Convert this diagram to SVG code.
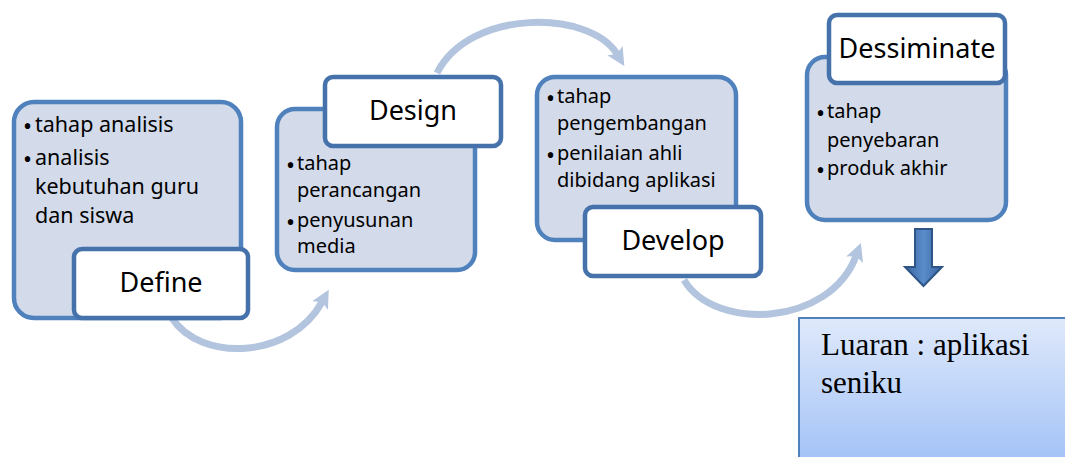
<svg xmlns="http://www.w3.org/2000/svg" width="1065" height="457" viewBox="0 0 1065 457">
  <style>
    .panel { fill: #d3dae9; stroke: #4f81bd; stroke-width: 4.5; }
    .label { fill: #ffffff; stroke: #4672ab; stroke-width: 4.5; }
    .body { font-family: "Noto Sans", "Open Sans", sans-serif; font-size: 20px; fill: #000; }
    .big { font-size: 21.5px; }
    .dot { font-size: 24px; }
    .title { font-family: "Noto Sans", "Open Sans", sans-serif; font-size: 27px; fill: #000; text-anchor: middle; }
    .flow { fill: none; stroke: #b3c4df; stroke-width: 7; }
    .out { font-family: "Liberation Serif", "Times New Roman", serif; font-size: 31px; fill: #000; }
  </style>
  <defs>
    <marker id="tip" markerUnits="userSpaceOnUse" markerWidth="24" markerHeight="24" viewBox="0 0 24 24" refX="6" refY="12" orient="auto">
      <path d="M2,3 L20,12 L2,21 L6,12 Z" fill="#b3c4df"/>
    </marker>
    <linearGradient id="shaft" x1="0" y1="0" x2="1" y2="0">
      <stop offset="0" stop-color="#3a66a0"/>
      <stop offset="0.5" stop-color="#5a8ccb"/>
      <stop offset="1" stop-color="#3a66a0"/>
    </linearGradient>
    <linearGradient id="sky" x1="0" y1="0" x2="0" y2="1">
      <stop offset="0" stop-color="#dfe9fb"/>
      <stop offset="1" stop-color="#a2c2f6"/>
    </linearGradient>
  </defs>

  <!-- curved flow arrows between the stages -->
  <g id="connectors">
    <path class="flow" d="M172,318 C200,362 290,360 322,302" marker-end="url(#tip)"/>
    <path class="flow" d="M437,73 C470,8 590,10 617,54" marker-end="url(#tip)"/>
    <path class="flow" d="M684,280 C715,332 830,326 856,256" marker-end="url(#tip)"/>
  </g>

  <g id="define">
    <rect class="panel" x="14" y="102" width="227" height="216" rx="20"/>
    <text class="body big" x="23" y="132"><tspan class="dot" dy="3">•</tspan><tspan x="35" dy="-3">tahap analisis</tspan></text>
    <text class="body big" x="23" y="165"><tspan class="dot" dy="3">•</tspan><tspan x="35" dy="-3">analisis</tspan></text>
    <text class="body big" x="35" y="194">kebutuhan guru</text>
    <text class="body big" x="35" y="223">dan siswa</text>
    <rect class="label" x="74" y="249" width="174" height="69" rx="8"/>
    <text class="title" x="161" y="292">Define</text>
  </g>

  <g id="design">
    <rect class="panel" x="277" y="109" width="198" height="161" rx="18"/>
    <text class="body" x="286" y="170"><tspan class="dot" dy="3.5">•</tspan><tspan x="297" dy="-3.5">tahap</tspan></text>
    <text class="body" x="297" y="197">perancangan</text>
    <text class="body" x="286" y="227"><tspan class="dot" dy="3.5">•</tspan><tspan x="297" dy="-3.5">penyusunan</tspan></text>
    <text class="body" x="297" y="253">media</text>
    <rect class="label" x="325" y="77" width="176" height="69" rx="8"/>
    <text class="title" x="413" y="120">Design</text>
  </g>

  <g id="develop">
    <rect class="panel" x="537" y="77" width="199" height="163" rx="18"/>
    <text class="body" x="546" y="103"><tspan class="dot" dy="3.5">•</tspan><tspan x="557" dy="-3.5">tahap</tspan></text>
    <text class="body" x="557" y="130">pengembangan</text>
    <text class="body" x="546" y="160"><tspan class="dot" dy="3.5">•</tspan><tspan x="557" dy="-3.5">penilaian ahli</tspan></text>
    <text class="body" x="557" y="187">dibidang aplikasi</text>
    <rect class="label" x="585" y="207" width="176" height="69" rx="8"/>
    <text class="title" x="673" y="250">Develop</text>
  </g>

  <g id="dessiminate">
    <rect class="panel" x="807" y="57" width="199" height="163" rx="18"/>
    <text class="body" x="816" y="118"><tspan class="dot" dy="3.5">•</tspan><tspan x="827" dy="-3.5">tahap</tspan></text>
    <text class="body" x="827" y="147">penyebaran</text>
    <text class="body" x="816" y="175"><tspan class="dot" dy="3.5">•</tspan><tspan x="827" dy="-3.5">produk akhir</tspan></text>
    <rect class="label" x="829" y="15" width="176" height="68" rx="8"/>
    <text class="title" x="917" y="58">Dessiminate</text>
  </g>

  <!-- block arrow down to the result -->
  <g id="down-arrow">
    <path d="M915,229 L932,229 L932,267 L942,267 L923.5,286 L905,267 L915,267 Z" fill="url(#shaft)" stroke="#2f5586" stroke-width="2" stroke-linejoin="miter"/>
  </g>

  <g id="output">
    <rect x="799" y="318" width="270" height="145" fill="url(#sky)" stroke="#4f81bd" stroke-width="2"/>
    <text class="out" x="821" y="355">Luaran : aplikasi</text>
    <text class="out" x="821" y="393">seniku</text>
  </g>
</svg>
